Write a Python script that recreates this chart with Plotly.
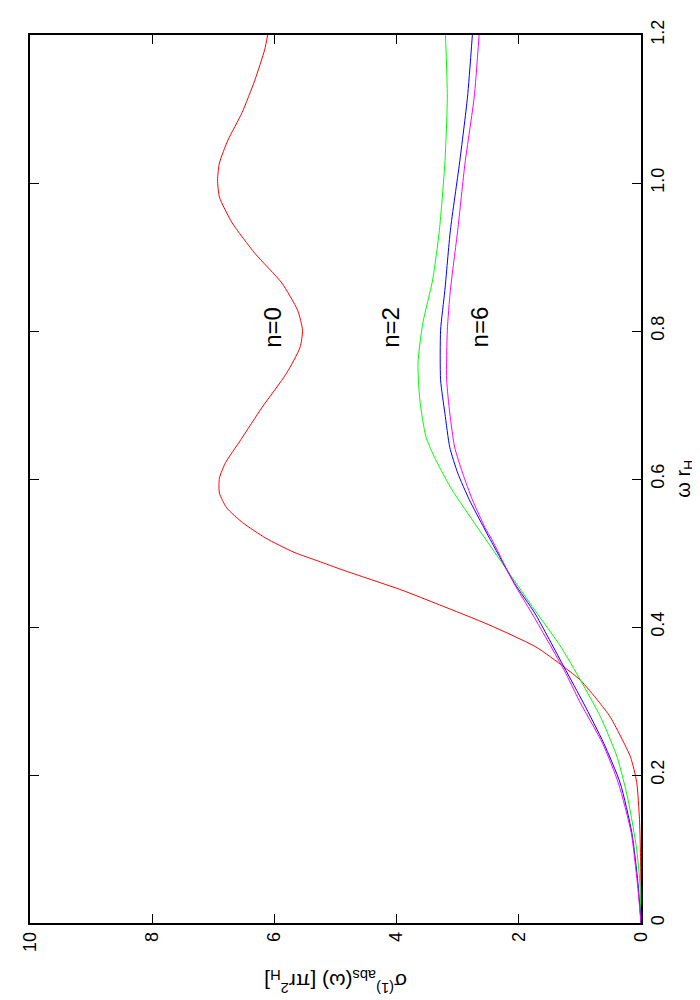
import plotly.graph_objects as go

# omega r_H (vertical axis) and sigma values for each curve
w_n0 = [0, 0.05, 0.10, 0.14, 0.19, 0.224, 0.25, 0.278, 0.30, 0.328, 0.346, 0.373,
        0.403, 0.43, 0.45, 0.477, 0.489, 0.501, 0.520, 0.541, 0.561, 0.581, 0.601,
        0.622, 0.653, 0.697, 0.743, 0.778, 0.801, 0.828, 0.865, 0.905, 0.946, 0.981,
        1.004, 1.027, 1.058, 1.095, 1.139, 1.18, 1.2]
s_n0 = [0, 0.001, 0.01, 0.025, 0.07, 0.17, 0.32, 0.50, 0.70, 0.99, 1.26, 1.72,
        2.49, 3.30, 3.92, 4.88, 5.28, 5.68, 6.14, 6.52, 6.78, 6.90, 6.90,
        6.80, 6.55, 6.20, 5.80, 5.58, 5.54, 5.62, 5.88, 6.32, 6.69, 6.90,
        6.93, 6.90, 6.76, 6.53, 6.32, 6.16, 6.11]

w_n2 = [0, 0.05, 0.099, 0.166, 0.224, 0.278, 0.328, 0.373, 0.423, 0.473, 0.535,
        0.585, 0.626, 0.657, 0.707, 0.757, 0.811, 0.869, 0.936, 1.027, 1.116, 1.2]
s_n2 = [0, 0.015, 0.07, 0.21, 0.39, 0.66, 0.99, 1.31, 1.74, 2.16, 2.68,
        3.09, 3.36, 3.52, 3.62, 3.65, 3.57, 3.41, 3.30, 3.21, 3.17, 3.20]

w_n4 = [0, 0.054, 0.122, 0.189, 0.243, 0.297, 0.346, 0.419, 0.459, 0.514, 0.534,
        0.572, 0.608, 0.643, 0.689, 0.734, 0.801, 0.855, 0.936, 1.027, 1.116, 1.2]
s_n4 = [0, 0.05, 0.15, 0.34, 0.61, 0.94, 1.26, 1.74, 2.07, 2.44, 2.57,
        2.81, 3.00, 3.13, 3.21, 3.28, 3.28, 3.21, 3.12, 2.97, 2.84, 2.76]

w_n6 = [0, 0.054, 0.122, 0.189, 0.243, 0.297, 0.342, 0.419, 0.459, 0.518, 0.534,
        0.572, 0.608, 0.643, 0.689, 0.734, 0.801, 0.855, 0.936, 1.027, 1.116, 1.2]
s_n6 = [0, 0.06, 0.16, 0.37, 0.63, 0.99, 1.26, 1.79, 2.08, 2.44, 2.55,
        2.76, 2.92, 3.05, 3.13, 3.18, 3.17, 3.12, 3.00, 2.88, 2.73, 2.65]

omega_ticks = [0, 0.2, 0.4, 0.6, 0.8, 1.0, 1.2]
omega_labels = ["0", "0.2", "0.4", "0.6", "0.8", "1.0", "1.2"]
sigma_ticks = [0, 2, 4, 6, 8, 10]

FONT = "Liberation Sans, Arial, Helvetica, sans-serif"

curves = [
    ("n=0", w_n0, s_n0, "#ff0000"),
    ("n=2", w_n2, s_n2, "#00ff00"),
    ("n=4", w_n4, s_n4, "#0000ff"),
    ("n=6", w_n6, s_n6, "#ff00ff"),
]

fig = go.Figure()
for name, w, s, col in curves:
    fig.add_trace(go.Scatter(
        x=s, y=w, mode="lines", name=name,
        line=dict(color=col, width=1, shape="spline", smoothing=0.6),
    ))

axis_common = dict(
    showgrid=False, zeroline=False, showline=True, linecolor="black", linewidth=1.5,
    mirror="ticks", ticks="inside", ticklen=9, tickwidth=1, tickcolor="black",
    tickangle=-90, tickfont=dict(family=FONT, size=18, color="black"),
    ticklabelstandoff=0,
)

# the page has an 8px body margin, margins are set so the frame lands where it should
fig.update_layout(
    width=700, height=1000,
    margin=dict(l=15, r=67, t=26, b=85),
    paper_bgcolor="white", plot_bgcolor="white",
    showlegend=False,
    xaxis=dict(range=[10, 0], tickvals=sigma_ticks, **axis_common),
    yaxis=dict(range=[0, 1.2], side="right", tickvals=omega_ticks,
               ticktext=omega_labels, **axis_common),
    font=dict(family=FONT, color="black"),
)

# curve labels, rotated like the rest of the page
for txt, sx in [("n=0", 6.03), ("n=2", 4.10), ("n=6", 2.65)]:
    fig.add_annotation(x=sx, y=0.805, text=txt, showarrow=False, textangle=-90,
                       font=dict(family=FONT, size=24, color="black"))

fig.add_annotation(
    xref="paper", yref="y", x=1.070, y=0.6, showarrow=False, textangle=-90,
    xanchor="center", yanchor="middle",
    text="ω r<sub>H</sub>", font=dict(family=FONT, size=20, color="black"),
)
fig.add_annotation(
    xref="x", yref="paper", x=5.0, y=-0.066, showarrow=False, textangle=180,
    xanchor="center", yanchor="middle",
    text="σ<sup>(1)</sup><sub>abs</sub>(ω) [πr<sup>2</sup><sub>H</sub>]",
    font=dict(family=FONT, size=21, color="black"),
)

fig.write_html("out.html")
